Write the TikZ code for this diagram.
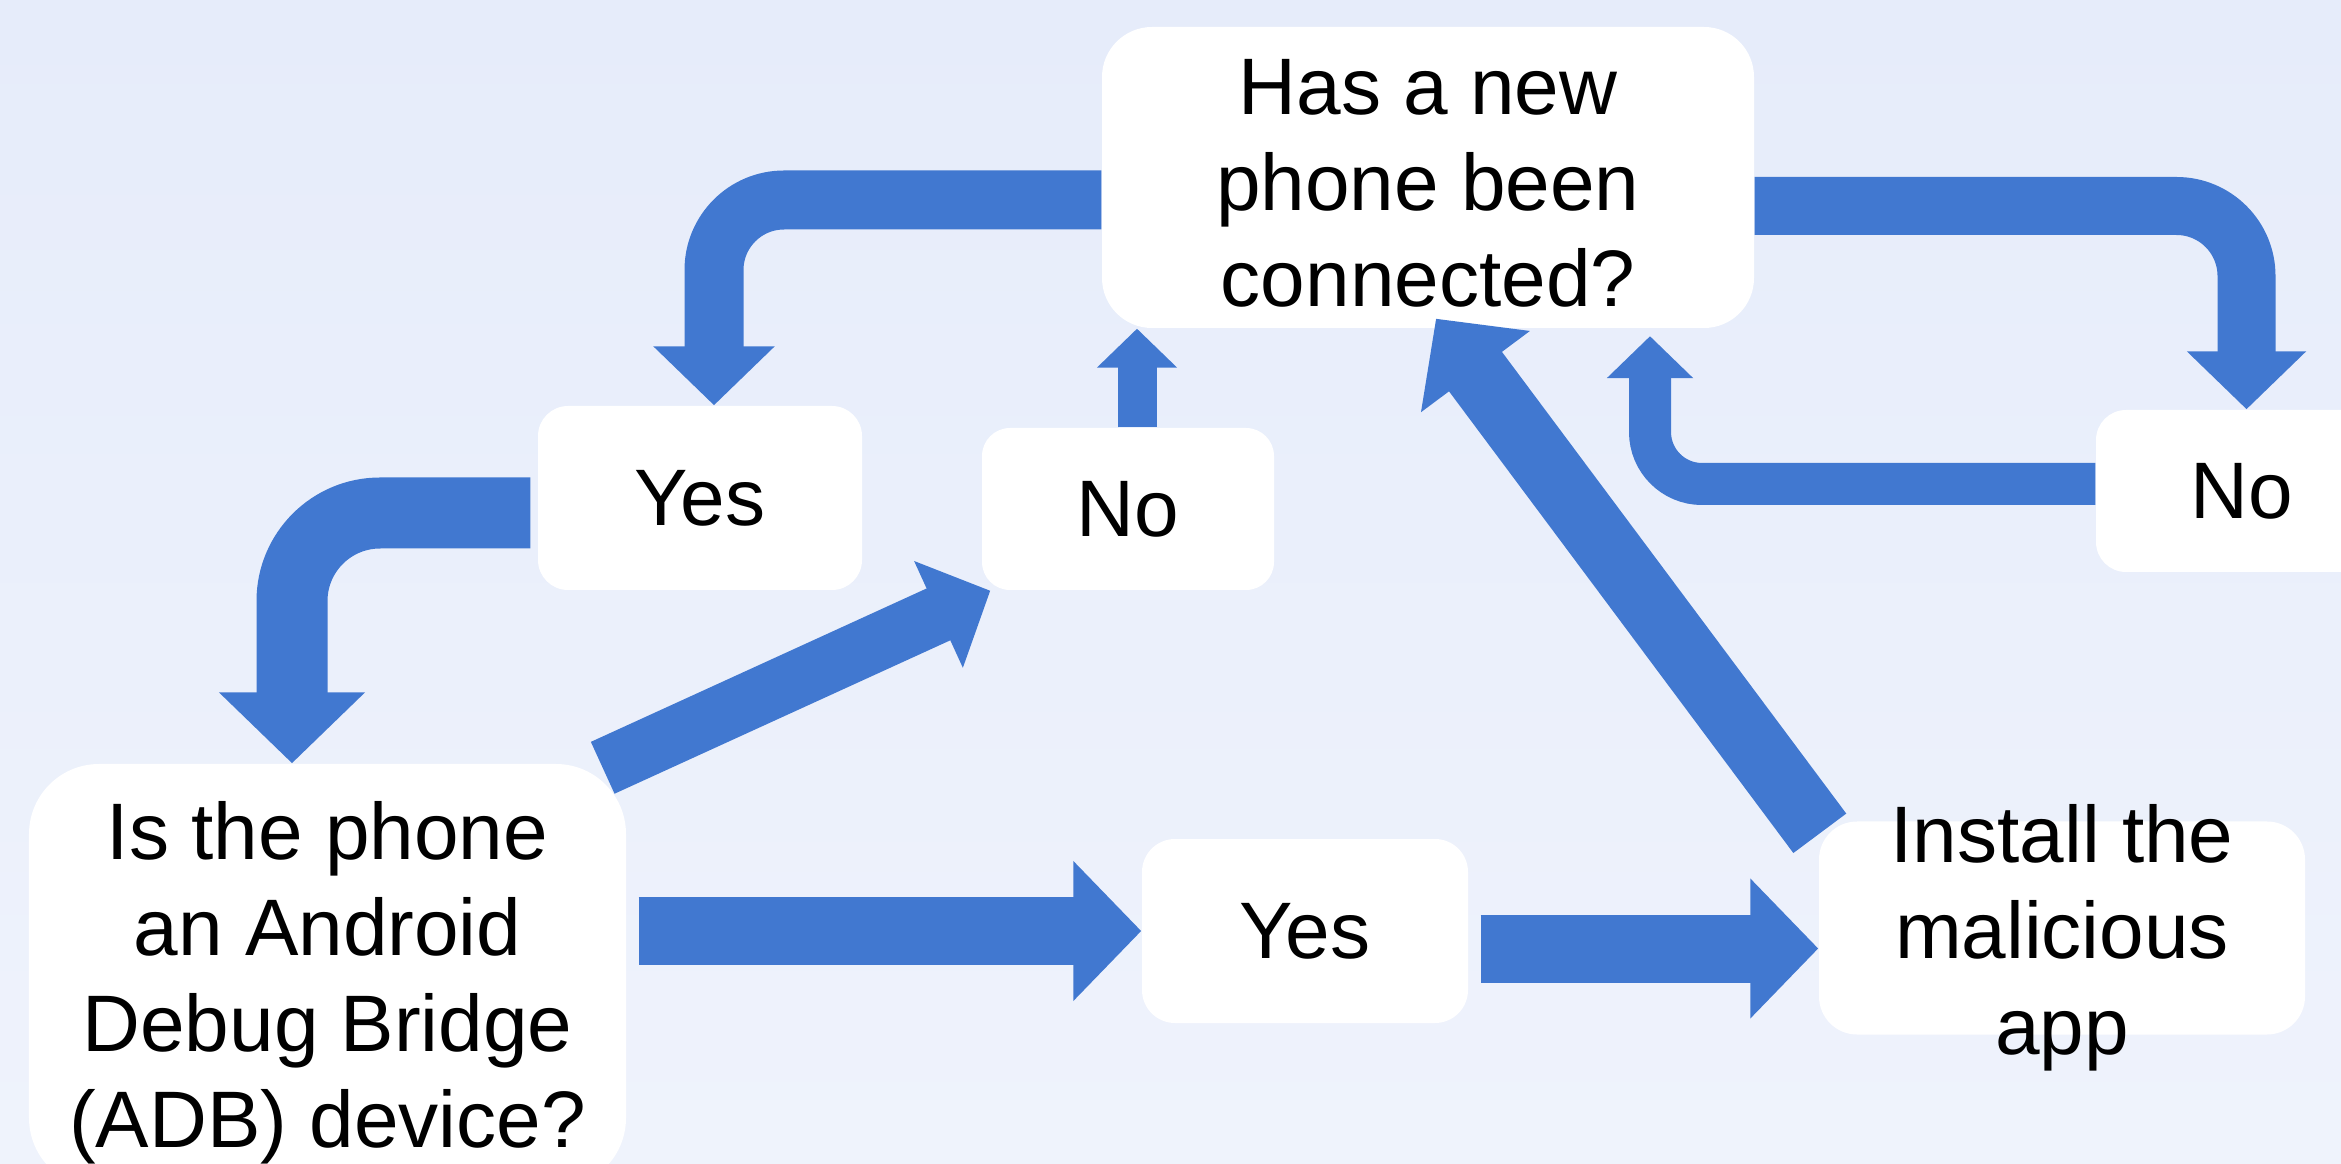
\documentclass[tikz,border=0pt]{standalone}
\usepackage{fontspec}
\setmainfont{Liberation Sans}
\usetikzlibrary{arrows.meta}
\definecolor{flowblue}{RGB}{65,120,208}
\definecolor{bgtop}{RGB}{230,236,250}
\definecolor{bgbottom}{RGB}{239,243,252}

\begin{document}
\begin{tikzpicture}[
  txt/.style={align=center, inner sep=0pt, font=\fontsize{22.8pt}{27.3pt}\selectfont},
  box/.style={txt, fill=white},
  flow/.style={flowblue, line width=#1, arrows=-{Triangle[length=0pt 1, width=0pt 2]}}
]

\shade[top color=bgtop, bottom color=bgbottom] (0,0) rectangle (23.41,-11.64);
\useasboundingbox (0,0) rectangle (23.41,-11.64);

\node[box, rounded corners=5mm, minimum width=6.52cm, minimum height=3.01cm,
  label={[txt, yshift=-0.55mm]center:{Has a new\\phone been\\connected?}}] (newphone) at (14.28,-1.775) {};
\node[box, rounded corners=3mm, minimum width=3.24cm, minimum height=1.84cm] (yestop) at (7.00,-4.98) {Yes};
\node[box, rounded corners=2.8mm, minimum width=2.92cm, minimum height=1.62cm] (nomid) at (11.28,-5.09) {No};
\node[box, rounded corners=3mm, minimum width=2.92cm, minimum height=1.62cm] (noright) at (22.42,-4.91) {No};
\node[box, rounded corners=7mm, minimum width=5.97cm, minimum height=4.24cm,
  label={[txt, yshift=-0.7mm]center:{Is the phone\\an Android\\Debug Bridge\\(ADB) device?}}] (adb) at (3.275,-9.76) {};
\node[box, rounded corners=3.3mm, minimum width=3.26cm, minimum height=1.84cm] (yesbottom) at (13.05,-9.31) {Yes};
\node[box, rounded corners=3.8mm, minimum width=4.86cm, minimum height=2.13cm,
  label={[txt, yshift=-1mm]center:{Install the\\malicious\\app}}] (install) at (20.62,-9.28) {};

\draw[flow=5.9mm, rounded corners=7mm] ([yshift=-2.25mm]newphone.west) -| ([xshift=1.4mm]yestop.north);
\draw[flow=7.1mm, rounded corners=8.8mm, shorten <=0.7mm] ([yshift=-1.5mm]yestop.west) -| ([xshift=-3.55mm]adb.north);
\draw[flow=5.7mm] ([shift={(-2.4mm,-0.45mm)}]adb.north east) -- ([xshift=0.9mm]nomid.south west);
\draw[flow=3.9mm] ([xshift=0.9mm]nomid.north) -- ([xshift=0.9mm]nomid.north |- newphone.south);
\draw[flow=5.8mm, rounded corners=7mm] ([yshift=-2.85mm]newphone.east) -| ([xshift=0.45mm]noright.north);
\draw[flow=4.2mm, rounded corners=5.2mm] ([yshift=0.7mm]noright.west) -| ([shift={(22.2mm,-0.75mm)}]newphone.south);
\draw[flow=6.6mm] ([shift={(0.15mm,-1.25mm)}]install.north west) -- ([shift={(0.8mm,1mm)}]newphone.south);
\draw[flow=6.8mm, shorten <=1.2mm] (adb.east |- yesbottom.west) -- (yesbottom.west);
\draw[flow=6.8mm, shorten <=1.2mm] ([yshift=-1.75mm]yesbottom.east) -- ([yshift=-1.75mm]yesbottom.east -| install.west);
\end{tikzpicture}
\end{document}
